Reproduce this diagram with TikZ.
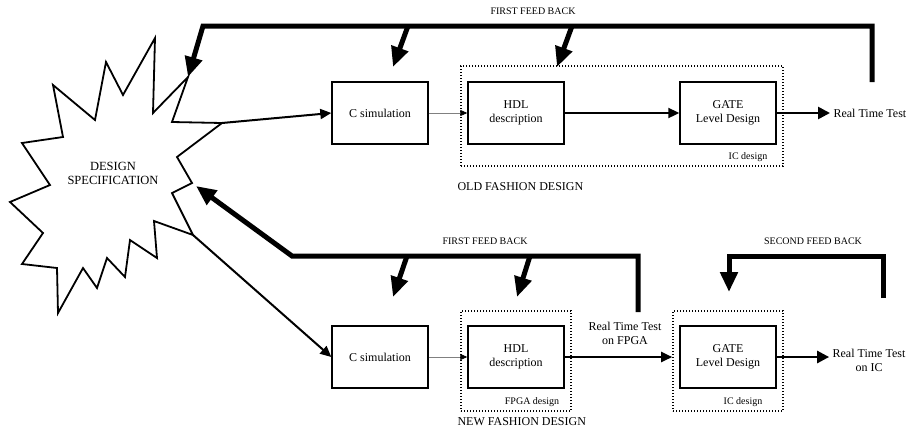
\documentclass[tikz,border=0pt]{standalone}
\usepackage{fontspec}
\setmainfont{Liberation Serif}
\usetikzlibrary{arrows.meta}

\begin{document}
\begin{tikzpicture}[x=1pt,y=-1pt,every node/.style={font=\fontsize{12}{14}\selectfont}]

    \tikzstyle{box}=[
      draw,
      line width=1.4pt,
      align=center,
      minimum width=96pt,
      minimum height=62pt,
      inner sep=0pt
    ]
    \tikzstyle{dotbox}=[draw, line width=1.6pt, dash pattern=on 1.4pt off 1.6pt, minimum height=100pt, inner sep=0pt]
    \tikzstyle{boxnote}=[font=\fontsize{10}{12}\selectfont]
    \tikzstyle{feedlabel}=[font=\fontsize{10}{12}\selectfont]
    \tikzstyle{feed}=[line width=5pt, line join=miter, -{Triangle[length=20pt,width=17pt]}]
    \tikzstyle{link}=[line width=0.7pt, draw=gray, -{Triangle[length=7pt,width=6pt,black]}]
    \tikzstyle{flow}=[line width=2pt, -{Triangle[length=11pt,width=10pt]}]
    \tikzstyle{result}=[line width=2.6pt, -{Triangle[length=12pt,width=12pt]}]

    \useasboundingbox (0,0) rectangle (909,437);

    % --- Design specification star ---
    \draw[line width=1.8pt]
      (22,143) -- (63,137) -- (53,85) -- (95,120) -- (106,62) -- (123,95)
      -- (155,38) -- (153,113) -- (188,77) -- (172,122) -- (222,123)
      -- (177,157) -- (192,183) -- (172,193) -- (193,235) -- (154,221)
      -- (157,258) -- (130,240) -- (125,277) -- (107,258) -- (97,288)
      -- (83,268) -- (58,313) -- (57,268) -- (22,264) -- (43,233)
      -- (10,202) -- (50,185) -- cycle;
    \node[font=\fontsize{12.5}{14}\selectfont, align=center] (spec) at (113,173) {DESIGN\\SPECIFICATION};
    \coordinate (tipU) at (222,123);
    \coordinate (tipL) at (193,235);

    % --- Top row: old fashion design ---
    \node[dotbox, minimum width=322pt] (icU) at (622,116) {};
    \node[box] (csimU) at (380,113) {C simulation};
    \node[box] (hdlU) at (516,113) {HDL\\ description};
    \node[box] (gateU) at (728,113) {GATE\\ Level Design};
    \node[anchor=west] (rtU) at (830,113) {Real Time Test};
    \node[boxnote] (icUnote) at (748,157) {IC design};
    \node[anchor=west] (oldU) at (454,187) {OLD FASHION DESIGN};

    % --- Bottom row: new fashion design ---
    \node[dotbox, minimum width=110pt] (fpgaL) at (516,361) {};
    \node[dotbox, minimum width=110pt] (icL) at (728,361) {};
    \node[box] (csimL) at (380,357) {C simulation};
    \node[box] (hdlL) at (516,357) {HDL\\ description};
    \node[box] (gateL) at (728,357) {GATE\\ Level Design};
    \node[align=center] (rtF) at (625,333) {Real Time Test\\ on FPGA};
    \node[align=center] (rtL) at (869,360) {Real Time Test\\ on IC};
    \node[boxnote] (fpgaLnote) at (532,402) {FPGA design};
    \node[boxnote] (icLnote) at (743,402) {IC design};
    \node[anchor=west] (newL) at (454,422) {NEW FASHION DESIGN};

    % --- Forward arrows ---
    \draw[flow] (tipU) -- (csimU.west);
    \draw[link] (csimU) -- (hdlU);
    \draw[flow] (hdlU) -- (gateU);
    \draw[result] (gateU.east) -- (rtU.west);

    \draw[flow] (tipL) -- (csimL.west);
    \draw[link] (csimL) -- (hdlL);
    \draw[flow] (hdlL.east) -- (icL.west |- hdlL.east);
    \draw[result] (gateL.east) -- (rtL.west |- gateL.east);

    % --- Feedback paths ---
    \node[feedlabel] (fbUlabel) at (533,11) {FIRST FEED BACK};
    \node[feedlabel] (fbFlabel) at (485,241) {FIRST FEED BACK};
    \node[feedlabel] (fbSlabel) at (813,241) {SECOND FEED BACK};

    \coordinate (fbUstart) at (872,82);
    \coordinate (fbUcorner) at (203,26);
    \coordinate (fbUtip) at (188,77);
    \coordinate (fbUa) at (408,26);
    \coordinate (fbUb) at (572,26);
    \coordinate (fbUatip) at (393,67);
    \coordinate (fbUbtip) at (557,67);
    \draw[feed] (fbUstart) |- (fbUcorner) -- (fbUtip);
    \draw[feed] (fbUa) -- (fbUatip);
    \draw[feed] (fbUb) -- (fbUbtip);

    \coordinate (fbFstart) at (638,312);
    \coordinate (fbFcorner) at (292,256);
    \coordinate (fbFtip) at (196,186);
    \coordinate (fbFa) at (407,256);
    \coordinate (fbFb) at (530,256);
    \coordinate (fbFatip) at (393,297);
    \coordinate (fbFbtip) at (517,297);
    \draw[feed] (fbFstart) |- (fbFcorner) -- (fbFtip);
    \draw[feed] (fbFa) -- (fbFatip);
    \draw[feed] (fbFb) -- (fbFbtip);

    \coordinate (fbSstart) at (883,298);
    \coordinate (fbScorner) at (729,256);
    \coordinate (fbStip) at (729,292);
    \draw[feed] (fbSstart) |- (fbScorner) -- (fbStip);

  \end{tikzpicture}
\end{document}
